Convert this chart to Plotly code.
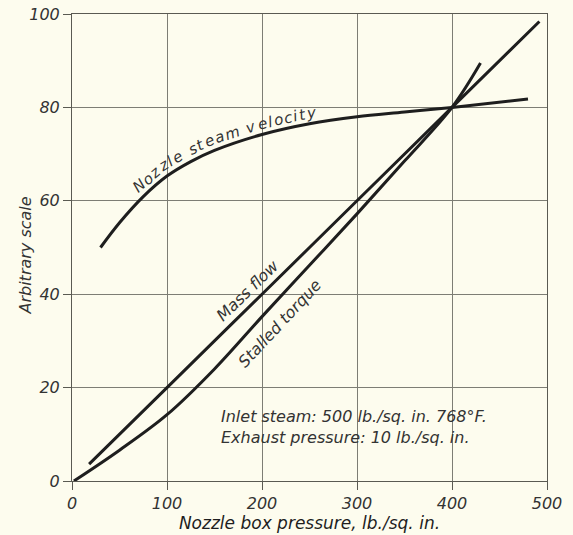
import numpy as np
import plotly.graph_objects as go

# Nozzle steam velocity (arbitrary scale) vs nozzle box pressure
velocity_p = [30, 50, 75, 100, 125, 150, 200, 250, 300, 350, 400, 480]
velocity_v = [50, 55.3, 60.9, 65.3, 68.4, 70.8, 74.2, 76.5, 78, 79, 80, 81.8]

# Mass flow
mass_p = [18, 100, 200, 300, 400, 492]
mass_v = [3.6, 20, 40, 60, 80, 98.4]

# Stalled torque
torque_p = [2, 50, 100, 150, 200, 250, 300, 350, 400, 430]
torque_v = [0, 6.6, 14.2, 24, 35.2, 46.2, 57.2, 68.5, 80, 89.5]

x_ticks = [0, 100, 200, 300, 400, 500]
y_ticks = [0, 20, 40, 60, 80, 100]

BG = "#fdfcee"
INK = "#1e1e1e"
TXT = "#333333"
FONT = "DejaVu Sans"

W, H = 573, 535
M = dict(l=72, r=26, t=14, b=54)
X_RANGE, Y_RANGE = (0, 500), (0, 100)
PX_X = (W - M["l"] - M["r"]) / (X_RANGE[1] - X_RANGE[0])
PX_Y = (H - M["t"] - M["b"]) / (Y_RANGE[1] - Y_RANGE[0])

fig = go.Figure()
for xs, ys in [(velocity_p, velocity_v), (mass_p, mass_v), (torque_p, torque_v)]:
    fig.add_trace(go.Scatter(
        x=xs, y=ys, mode="lines",
        line=dict(color=INK, width=3, shape="spline", smoothing=1.0),
        showlegend=False, hoverinfo="skip",
    ))


def label_font(size):
    return dict(family=FONT, size=size, color=TXT, style="italic")


# DejaVu Sans advance widths (em) for lettering set along a curve
ADV = {"N": .748, "o": .612, "z": .525, "l": .278, "e": .615, " ": .318,
       "s": .521, "t": .392, "a": .613, "m": .974, "v": .592, "c": .550,
       "i": .278, "y": .592}


def text_along_curve(text, xs, ys, x_start, size, gap, offset):
    """Set each character of `text` along the curve (xs, ys), lifted by
    `offset` pixels on the upper side, starting at data x = x_start."""
    fx = np.linspace(xs[0], xs[-1], 600)
    fy = np.interp(fx, xs, ys)
    px, py = fx * PX_X, fy * PX_Y
    seg = np.hypot(np.diff(px), np.diff(py))
    s = np.concatenate([[0], np.cumsum(seg)])
    s0 = np.interp(x_start, fx, s)
    pos = s0
    for ch in text:
        w = ADV.get(ch, .6) * size + gap
        sc = pos + w / 2
        cx, cy = np.interp(sc, s, px), np.interp(sc, s, py)
        i = int(np.clip(np.searchsorted(s, sc), 4, len(s) - 5))
        dx, dy = px[i + 4] - px[i - 4], py[i + 4] - py[i - 4]
        ang = np.degrees(np.arctan2(dy, dx))
        nx, ny = -dy / np.hypot(dx, dy), dx / np.hypot(dx, dy)
        if ch != " ":
            fig.add_annotation(
                x=(cx + nx * offset) / PX_X, y=(cy + ny * offset) / PX_Y,
                text=ch, textangle=-ang, showarrow=False,
                xanchor="center", yanchor="middle", font=label_font(size),
            )
        pos += w


text_along_curve("Nozzle steam velocity", velocity_p, velocity_v,
                 x_start=73, size=15, gap=1.5, offset=10.5)

fig.add_annotation(x=185, y=40.8, text="Mass flow", textangle=-44,
                   showarrow=False, font=label_font(16))
fig.add_annotation(x=218.5, y=33.8, text="Stalled torque", textangle=-47,
                   showarrow=False, font=label_font(16))

# Operating conditions note
fig.add_annotation(x=155, y=13.8, xanchor="left", yanchor="middle",
                   text="Inlet steam: 500 lb./sq. in. 768°F.",
                   showarrow=False, font=label_font(16))
fig.add_annotation(x=155, y=9.4, xanchor="left", yanchor="middle",
                   text="Exhaust pressure: 10 lb./sq. in.",
                   showarrow=False, font=label_font(16))

# Vertical axis title
fig.add_annotation(xref="paper", yref="paper", x=0, y=0.5, xshift=-47,
                   yshift=-8, xanchor="center", yanchor="middle",
                   text="Arbitrary scale", textangle=-90,
                   showarrow=False, font=label_font(16))

axis_common = dict(
    showgrid=True, gridcolor="#7d7d74", gridwidth=1,
    showline=True, linecolor="#5a5a52", linewidth=1, mirror=True,
    ticks="outside", ticklen=8, tickcolor="#5a5a52", tickwidth=1,
    zeroline=False, automargin=False,
    tickfont=dict(family=FONT, size=16, color=TXT, style="italic"),
)

fig.update_xaxes(
    range=list(X_RANGE), tickvals=x_ticks, ticktext=[str(v) for v in x_ticks],
    title=dict(text="Nozzle box pressure, lb./sq. in.", standoff=2,
               font=dict(family=FONT, size=17, color=INK, style="italic")),
    **axis_common,
)
fig.update_yaxes(
    range=list(Y_RANGE), tickvals=y_ticks, ticktext=[str(v) for v in y_ticks],
    ticklabelstandoff=0,
    **axis_common,
)

fig.update_layout(
    width=W, height=H, margin=M,
    paper_bgcolor=BG, plot_bgcolor=BG,
)

fig.write_html("out.html")
